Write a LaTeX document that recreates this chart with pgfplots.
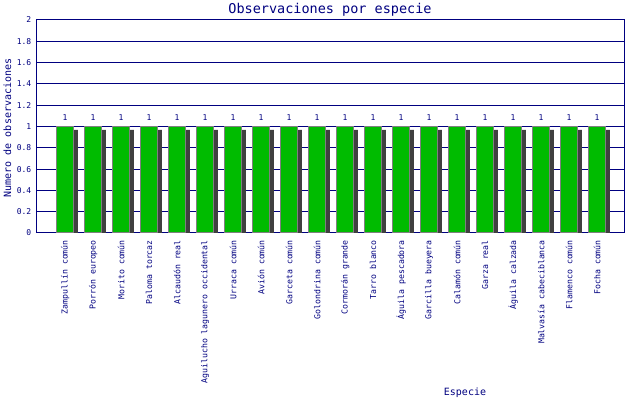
\documentclass[border=0pt]{standalone}
\usepackage{pgfplots}
\pgfplotsset{compat=1.18}
\usepackage{fontspec}
\setmainfont{DejaVu Sans Mono}
\definecolor{navy}{HTML}{000080}
\definecolor{barg}{HTML}{00BB00}
\definecolor{shad}{HTML}{404040}
\definecolor{bord}{HTML}{808080}
\begin{document}
\begin{tikzpicture}
\useasboundingbox (0,0) rectangle (640bp,400bp);
\begin{axis}[
  at={(36bp,167bp)}, anchor=south west,
  scale only axis, width=588bp, height=213bp,
  xmin=-1.04, xmax=19.96, ymin=0, ymax=2,
  xtick={0,...,19},
  xticklabels={Zampullín común, Porrón europeo, Morito común, Paloma torcaz, Alcaudón real, Aguilucho lagunero occidental, Urraca común, Avión común, Garceta común, Golondrina común, Cormorán grande, Tarro blanco, Águila pescadora, Garcilla bueyera, Calamón común, Garza real, Águila calzada, Malvasía cabeciblanca, Flamenco común, Focha común},
  ytick={0,0.2,0.4,0.6,0.8,1,1.2,1.4,1.6,1.8,2},
  yticklabels={0,0.2,0.4,0.6,0.8,1,1.2,1.4,1.6,1.8,2},
  major tick length=0pt,
  ymajorgrids, grid style={navy, line width=1bp},
  axis line style={navy, line width=1bp},
  xticklabel style={rotate=90, anchor=east, inner sep=0pt, text=navy, font=\fontsize{8.2bp}{8.2bp}\selectfont},
  xticklabel shift=7bp,
  yticklabel style={inner sep=0pt, text=navy, font=\fontsize{8bp}{8bp}\selectfont},
  yticklabel shift=4.5bp,
  /pgf/number format/assume math mode=true,
]
\addplot[ybar, bar width=17.5bp, bar shift=4bp, fill=shad, draw=none] coordinates {
(0,0.969) (1,0.969) (2,0.969) (3,0.969) (4,0.969) (5,0.969) (6,0.969) (7,0.969) (8,0.969) (9,0.969)
(10,0.969) (11,0.969) (12,0.969) (13,0.969) (14,0.969) (15,0.969) (16,0.969) (17,0.969) (18,0.969) (19,0.969)};
\addplot[ybar, bar width=16.5bp, bar shift=0bp, fill=barg, draw=bord, line width=1bp,
  nodes near coords,
  every node near coord/.append style={anchor=south, inner sep=0pt, yshift=5.5bp, text=navy, font=\fontsize{8bp}{8bp}\selectfont}] coordinates {
(0,1) (1,1) (2,1) (3,1) (4,1) (5,1) (6,1) (7,1) (8,1) (9,1)
(10,1) (11,1) (12,1) (13,1) (14,1) (15,1) (16,1) (17,1) (18,1) (19,1)};
\end{axis}
\node[anchor=base, text=navy, inner sep=0pt, font=\fontsize{13.5bp}{14bp}\selectfont] at (330bp,386.7bp) {Observaciones por especie};
\node[rotate=90, text=navy, inner sep=0pt, font=\fontsize{10bp}{10bp}\selectfont] at (7.5bp,272bp) {Numero de observaciones};
\node[anchor=base, text=navy, inner sep=0pt, font=\fontsize{10bp}{10bp}\selectfont] at (465bp,4.5bp) {Especie};
\end{tikzpicture}
\end{document}
